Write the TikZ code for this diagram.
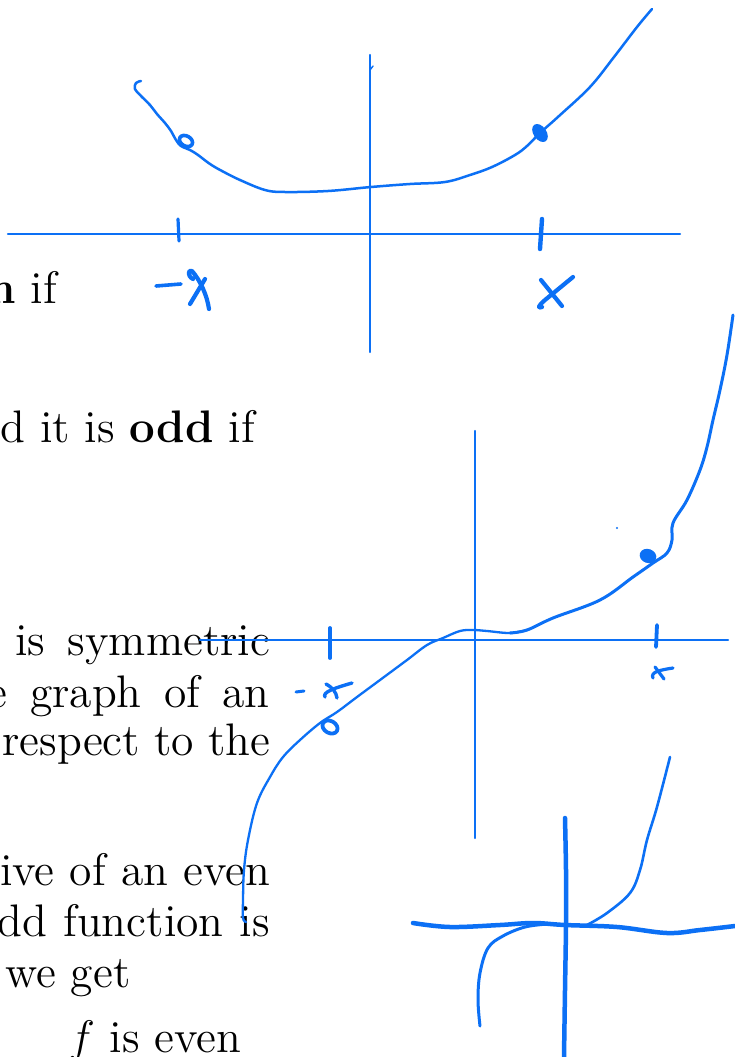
\RequirePackage{fix-cm}
\documentclass[tikz,border=0pt]{standalone}
\usepackage{fontspec}
\setmainfont{lmroman12-regular}[Extension=.otf, BoldFont=lmroman12-bold, ItalicFont=lmroman12-italic]
\definecolor{ink}{RGB}{12,112,245}
\tikzset{
  txt/.style={inner sep=0pt, font=\fontsize{45.6}{52}\selectfont},
  pen/.style={draw=ink, line width=2.5pt, line cap=round, line join=round},
  thickpen/.style={draw=ink, line width=4.5pt, line cap=round, line join=round},
  tickpen/.style={draw=ink, line width=3.8pt, line cap=round, line join=round},
}
\begin{document}
\begin{tikzpicture}[x=1pt,y=-1pt]
\useasboundingbox (0,0) rectangle (735,1057);
\clip (0,0) rectangle (735,1057);
\fill[white] (0,0) rectangle (735,1057);
% text
\node[txt, anchor=base east] (t1) at (57,303) {\textbf{n} if};
\node[txt, anchor=base east] (t2) at (255,442) {d it is \textbf{odd} if};
\node[txt, anchor=base west] (t3) at (15,655) {\makebox[255pt][s]{is symmetric}};
\node[txt, anchor=base east] (t4) at (270,707) {\makebox[282pt][s]{e graph of an}};
\node[txt, anchor=base west] (t5) at (2,755) {\makebox[268pt][s]{respect to the}};
\node[txt, anchor=base west] (t6) at (0,885) {\makebox[270pt][s]{ive of an even}};
\node[txt, anchor=base east] (t7) at (270,936) {\makebox[272pt][s]{dd function is}};
\node[txt, anchor=base west] (t8) at (5,987) {we get};
\node[txt, anchor=base west] (t9) at (68,1052) {$f$ is even};

% ---------- graph 1 ----------
\draw[pen, line width=2.2pt] (8,234) -- (680,234);
\draw[pen, line width=2.2pt] (370,55) -- (370,352);
\draw[pen, line width=1.4pt] (373,66) -- (370,70) -- (370,76);
\draw[tickpen, line width=3.2pt] (178,219) -- (179,241);
\draw[tickpen, line width=4.4pt] (542,219) -- (540,249);
% -x
\draw[tickpen, line width=3.6pt] (156,286) -- (181,284);
\draw[tickpen, line width=4.2pt] (193,279) .. controls (187,276) and (188,269) .. (192,271) .. controls (200,280) and (207,295) .. (209,309);
\draw[tickpen, line width=4.2pt] (205,279) -- (190,304);
% x
\draw[tickpen, line width=4.2pt] (541,280) -- (562,306);
\draw[tickpen, line width=4.2pt] (573,277) -- (545,300) .. controls (538,306) and (537,309) .. (542,307);
% curve
\draw[pen] plot[smooth, tension=0.6] coordinates {(141,81) (136,83) (135,89) (142,97) (150,105) (157,114) (165,123) (171,131) (176,140) (181,146) (190,150) (198,155) (210,164) (222,171) (240,180) (265,190) (285,192) (328,191) (371,187) (410,184) (445,182) (470,175) (492,167) (515,155) (527,146) (540,133) (559,116) (590,87) (614,57) (637,27) (652,9)};
\draw[pen, line width=3.6pt, rotate around={-30:(186,141)}] (186,141) ellipse (7 and 5);
\fill[ink, rotate around={35:(540,133)}] (540,133) ellipse (6.5 and 10);

% ---------- graph 2 ----------
\draw[pen, line width=2.2pt] (200,640) -- (728,640);
\draw[pen, line width=2.2pt] (475,431) -- (475,838);
\draw[tickpen] (330,628) -- (330,658);
\draw[tickpen] (657,625) -- (656,647);
% -x
\draw[tickpen, line width=3pt] (296,692) -- (304,691);
\draw[tickpen, line width=3.4pt] (325,697) .. controls (322,692) and (335,688) .. (352,683);
\draw[tickpen, line width=3.4pt] (326,684) .. controls (333,688) and (336,692) .. (337,698);
% x
\draw[tickpen, line width=3.2pt] (653,678) .. controls (650,672) and (660,670) .. (673,668);
\draw[tickpen, line width=3.2pt] (655,667) -- (664,679);
% curve
\draw[pen, line width=2.3pt] plot[smooth, tension=0.6] coordinates {(246,922) (243,918) (243,900) (244,870) (248,840) (257,803) (270,777) (283,757) (300,740) (320,723) (337,712) (357,697) (380,680) (407,660) (427,645) (443,638) (460,631) (473,630) (487,631) (510,633) (527,630)};
\draw[pen, line width=3pt] plot[smooth, tension=0.6] coordinates {(510,633) (527,630) (553,618) (600,600) (633,577) (653,563) (667,553) (672,540) (673,523) (687,500) (700,470) (707,447) (713,420) (720,390) (727,355) (733,315)};
\draw[pen, line width=3.8pt, rotate around={-30:(330,727)}] (330,727) ellipse (8 and 6);
\fill[ink, rotate around={-20:(648,556)}] (648,556) ellipse (8.5 and 7);
\fill[ink] (617,528) circle (1.2);

% ---------- graph 3 ----------
\draw[thickpen] plot[smooth, tension=0.6] coordinates {(413,923) (450,927) (500,925) (533,923) (565,925) (617,927) (667,933) (700,930) (735,926)};
\draw[thickpen] plot[smooth, tension=0.5] coordinates {(565,818) (566,870) (566,925) (565,990) (564,1057)};
\draw[pen, line width=3pt] plot[smooth, tension=0.6] coordinates {(480,1026) (478,1000) (480,973) (488,948) (503,936) (525,927) (548,924)};
\draw[pen, line width=2.6pt] plot[smooth, tension=0.6] coordinates {(587,925) (607,913) (630,893) (640,870) (647,840) (657,807) (670,757)};
\end{tikzpicture}
\end{document}
